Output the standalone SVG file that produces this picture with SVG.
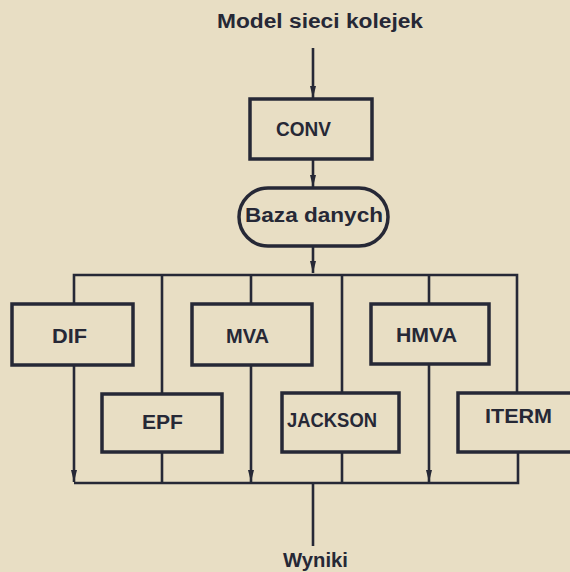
<svg xmlns="http://www.w3.org/2000/svg" width="570" height="572" viewBox="0 0 570 572">
<defs>
<style>
.bg{fill:#e8dec4}
.box{fill:none;stroke:#262836;stroke-width:3.5}
.ln{fill:none;stroke:#262836;stroke-width:2.6}
.t{font-family:"Liberation Sans","DejaVu Sans",sans-serif;font-weight:bold;font-size:20px;fill:#262836}
</style>
<marker id="a" markerUnits="userSpaceOnUse" markerWidth="12" markerHeight="8" viewBox="0 0 12 8" refX="12" refY="4" orient="auto">
<path d="M12,4 L0,1 L0,7 Z" fill="#262836"/>
</marker>
</defs>
<rect class="bg" x="0" y="0" width="570" height="572"/>
<text class="t" x="217" y="28" textLength="206" lengthAdjust="spacingAndGlyphs">Model sieci kolejek</text>
<g id="connectors">
<line class="ln" x1="313" y1="48" x2="313" y2="98" marker-end="url(#a)"/>
<line class="ln" x1="313" y1="160" x2="313" y2="187" marker-end="url(#a)"/>
<line class="ln" x1="313" y1="247" x2="313" y2="273" marker-end="url(#a)"/>
<polyline class="ln" points="74,304 74,275 517,275 517,393"/>
<line class="ln" x1="162" y1="275" x2="162" y2="393"/>
<line class="ln" x1="251" y1="275" x2="251" y2="304"/>
<line class="ln" x1="342" y1="275" x2="342" y2="393"/>
<line class="ln" x1="429" y1="275" x2="429" y2="304"/>
<line class="ln" x1="74" y1="366" x2="74" y2="482" marker-end="url(#a)"/>
<line class="ln" x1="251" y1="366" x2="251" y2="482" marker-end="url(#a)"/>
<line class="ln" x1="429" y1="365" x2="429" y2="482" marker-end="url(#a)"/>
<line class="ln" x1="162" y1="453" x2="162" y2="483"/>
<line class="ln" x1="342" y1="453" x2="342" y2="483"/>
<polyline class="ln" points="74,483 518,483 518,453"/>
<line class="ln" x1="313" y1="483" x2="313" y2="546"/>
</g>
<g id="CONV"><rect class="box" x="250" y="99" width="122" height="60"/><text class="t" x="276" y="136" textLength="55" lengthAdjust="spacingAndGlyphs">CONV</text></g>
<g id="Baza"><rect class="box" x="239" y="188" width="149" height="58" rx="29" ry="29"/><text class="t" x="245" y="222" textLength="138" lengthAdjust="spacingAndGlyphs">Baza danych</text></g>
<g id="DIF"><rect class="box" x="12" y="304" width="121" height="61"/><text class="t" x="52" y="343" textLength="35" lengthAdjust="spacingAndGlyphs">DIF</text></g>
<g id="MVA"><rect class="box" x="192" y="304" width="120" height="61"/><text class="t" x="226" y="343" textLength="43" lengthAdjust="spacingAndGlyphs">MVA</text></g>
<g id="HMVA"><rect class="box" x="371" y="304" width="118" height="60"/><text class="t" x="396" y="342" textLength="61" lengthAdjust="spacingAndGlyphs">HMVA</text></g>
<g id="EPF"><rect class="box" x="102" y="394" width="120" height="58"/><text class="t" x="142" y="429" textLength="41" lengthAdjust="spacingAndGlyphs">EPF</text></g>
<g id="JACKSON"><rect class="box" x="282" y="393" width="117" height="59"/><text class="t" x="287" y="427" textLength="90" lengthAdjust="spacingAndGlyphs">JACKSON</text></g>
<g id="ITERM"><rect class="box" x="458" y="393" width="120" height="59"/><text class="t" x="485" y="423" textLength="67" lengthAdjust="spacingAndGlyphs">ITERM</text></g>
<text class="t" x="283" y="567" textLength="65" lengthAdjust="spacingAndGlyphs">Wyniki</text>
</svg>
